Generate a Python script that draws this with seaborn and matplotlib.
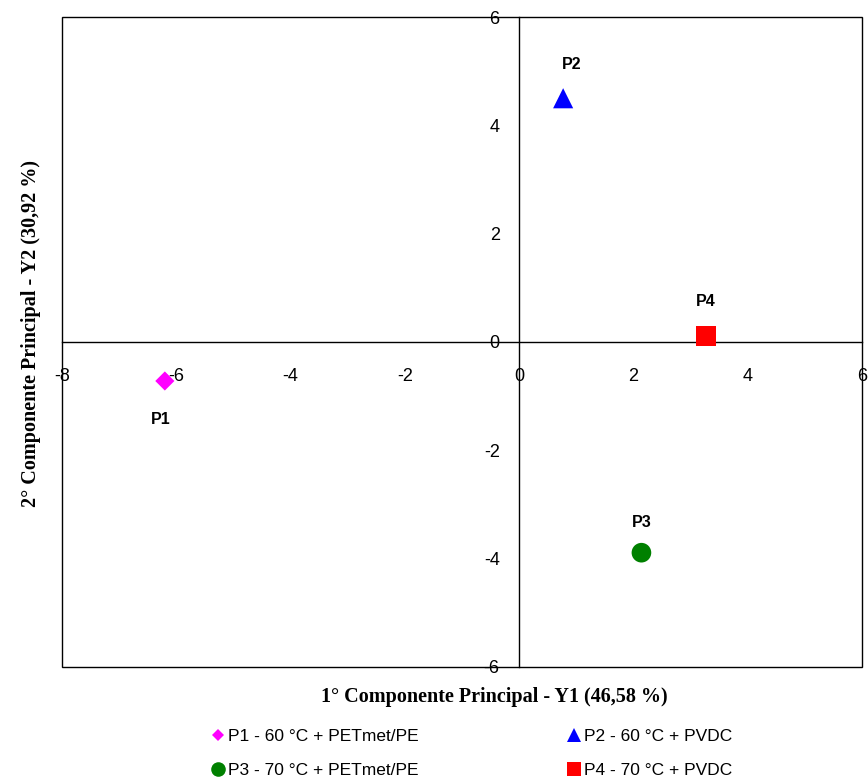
import matplotlib
matplotlib.use("Agg")
import matplotlib.pyplot as plt
from matplotlib.lines import Line2D
from matplotlib.patches import Rectangle
import numpy as np
import pandas as pd
import seaborn as sns

# PCA scores of the four treatments
labels = ["P1", "P2", "P3", "P4"]
treatments = [
    "P1 - 60 °C + PETmet/PE",
    "P2 - 60 °C + PVDC",
    "P3 - 70 °C + PETmet/PE",
    "P4 - 70 °C + PVDC",
]
y1_scores = [-6.20, 0.77, 2.14, 3.27]
y2_scores = [-0.72, 4.50, -3.89, 0.11]

x_ticks = [-8, -6, -4, -2, 0, 2, 4, 6]
y_ticks = [-6, -4, -2, 0, 2, 4, 6]

x_title = "1° Componente Principal - Y1 (46,58 %)"
y_title = "2° Componente Principal - Y2 (30,92 %)"

df = pd.DataFrame({"Y1": y1_scores, "Y2": y2_scores,
                   "Tratamento": treatments, "Ponto": labels})

colors = dict(zip(treatments, ["#FF00FF", "#0000FF", "#008000", "#FF0000"]))
markers = dict(zip(treatments, ["D", "^", "o", "s"]))
sizes = dict(zip(treatments, [95, 210, 200, 200]))
legend_ms = dict(zip(treatments, [6.5, 10.5, 10.5, 10.5]))
label_offsets = dict(zip(labels, [(-3, -28), (6, 24), (0, 22), (0, 25)]))

sns.set_style("white")
plt.rcParams["font.family"] = ["Liberation Sans", "DejaVu Sans"]
plt.rcParams["axes.unicode_minus"] = False
plt.rcParams["text.color"] = "black"
plt.rcParams["xtick.color"] = "black"
plt.rcParams["ytick.color"] = "black"

fig = plt.figure(figsize=(8.68, 7.80), dpi=100)
ax = fig.add_axes([0.0714, 0.1449, 0.9217, 0.8333])

sns.scatterplot(data=df, x="Y1", y="Y2", hue="Tratamento", style="Tratamento",
                size="Tratamento", palette=colors, markers=markers, sizes=sizes,
                linewidth=0, legend=False, ax=ax, zorder=5, clip_on=False)

for _, row in df.iterrows():
    ax.annotate(row["Ponto"], (row["Y1"], row["Y2"]),
                xytext=label_offsets[row["Ponto"]], textcoords="offset points",
                ha="center", va="center", fontsize=11.5, fontweight="bold",
                color="black")

ax.set_xlim(-8, 6)
ax.set_ylim(-6, 6)
ax.set_xticks(x_ticks)
ax.set_yticks(y_ticks)

# axes cross at the origin, with a full frame around the plot
for side in ["top", "right"]:
    ax.spines[side].set_visible(False)
ax.spines["left"].set_position(("data", 0))
ax.spines["bottom"].set_position(("data", 0))
for side in ["left", "bottom"]:
    ax.spines[side].set_linewidth(1.0)
    ax.spines[side].set_color("black")
ax.add_patch(Rectangle((0, 0), 1, 1, transform=ax.transAxes, fill=False,
                       edgecolor="black", linewidth=1.0, clip_on=False, zorder=3))

ax.tick_params(axis="x", direction="out", length=5, width=1, pad=14,
               labelsize=13, colors="black")
ax.tick_params(axis="y", direction="out", length=5, width=1, pad=9,
               labelsize=13, colors="black")
ax.set_xlabel("")
ax.set_ylabel("")

fig.text(0.569, 0.106, x_title, ha="center", va="center", fontsize=14.5,
         fontweight="bold", family=["Liberation Serif", "DejaVu Serif"])
fig.text(0.036, 0.573, y_title, ha="center", va="center", rotation=90,
         fontsize=14.5, fontweight="bold", family=["Liberation Serif", "DejaVu Serif"])

handles = {}
for t in treatments:
    handles[t] = Line2D([], [], linestyle="none", marker=markers[t],
                        markersize=legend_ms[t], color=colors[t],
                        markeredgewidth=0, label=t)
order = [treatments[0], treatments[2], treatments[1], treatments[3]]
fig.legend(handles=[handles[t] for t in order], ncol=2, frameon=False,
           loc="upper left", bbox_to_anchor=(0.2246, 0.0857),
           handlelength=0.8, handletextpad=0.2, columnspacing=8.55,
           labelspacing=1.1, prop={"size": 12.5})

fig.savefig("out.png", dpi=100, facecolor="white")
